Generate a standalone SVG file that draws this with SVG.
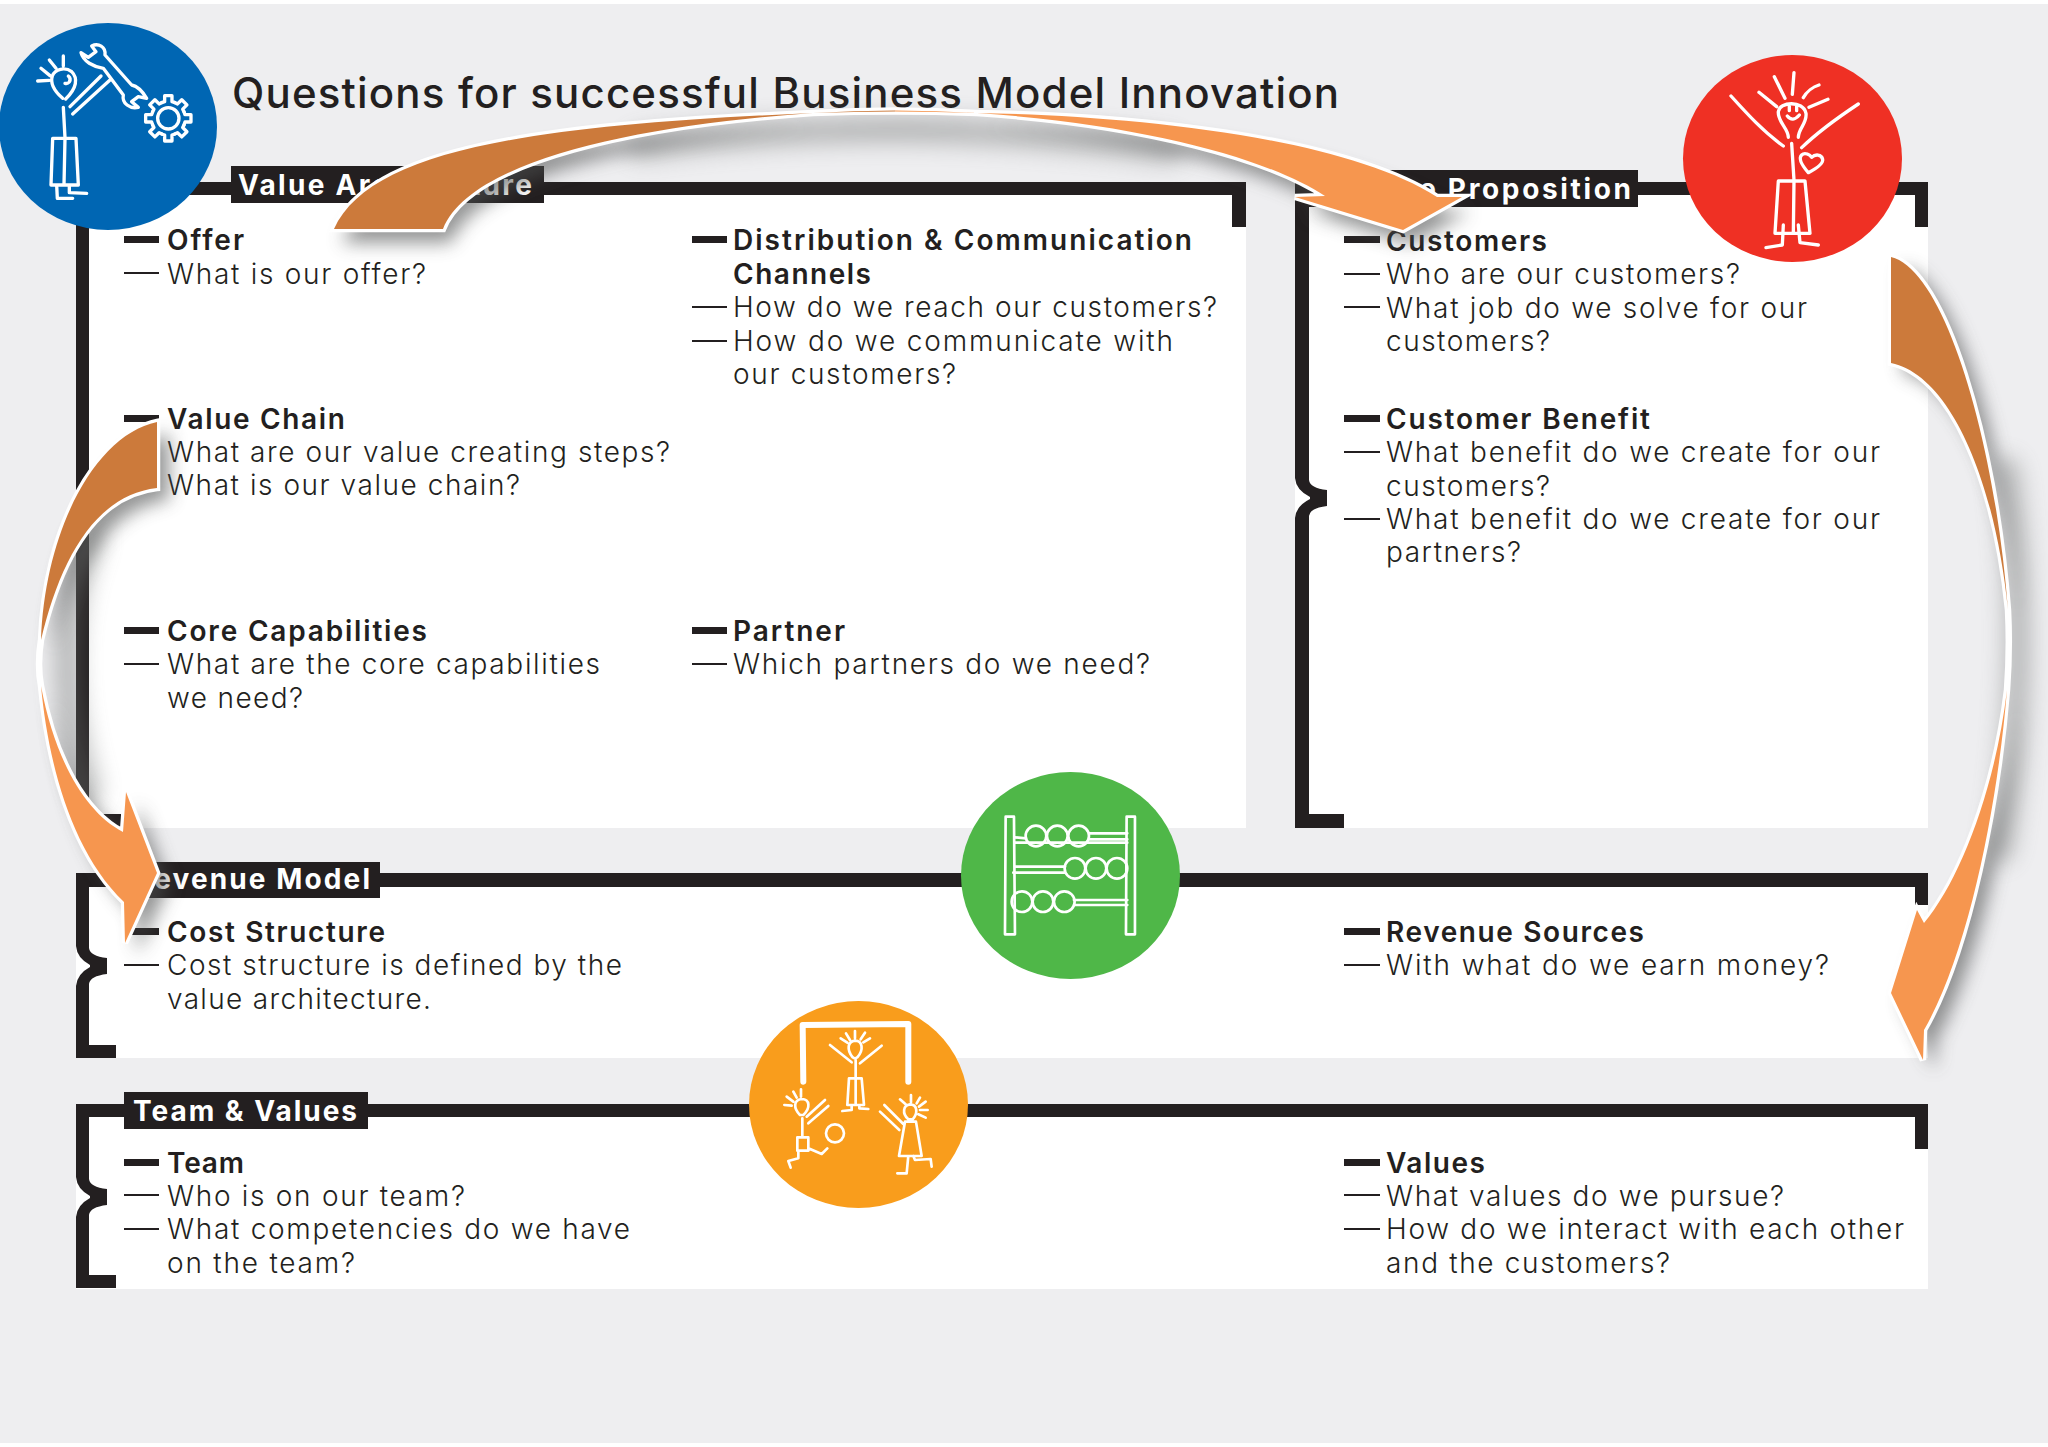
<svg xmlns="http://www.w3.org/2000/svg" xmlns:xlink="http://www.w3.org/1999/xlink" width="2048" height="1447" viewBox="0 0 2048 1447">
<style>
.bg{fill:#eeeef0}
.panel{fill:#fff}
.bar{fill:#231f20}
.thick{fill:#231f20}
.thin{fill:#231f20}
.h{font-family:"Inter","Liberation Sans",sans-serif;font-size:28px;font-weight:600;fill:#231f20}
.q{font-family:"Inter","Liberation Sans",sans-serif;font-size:28px;font-weight:300;fill:#231f20}
.tag{font-family:"Inter","Liberation Sans",sans-serif;font-size:28px;font-weight:700;fill:#fff}
.title{font-family:"Inter","Liberation Sans",sans-serif;font-size:42px;font-weight:500;fill:#231f20}
.ic{fill:none;stroke:#fff;stroke-width:10;stroke-linecap:round;stroke-linejoin:round}
.ic8{fill:none;stroke:#fff;stroke-width:8;stroke-linecap:round;stroke-linejoin:round}
.halo{stroke:#fff;stroke-width:6.500;stroke-linejoin:miter;fill:#fff}
.sh{fill:#4d4f4f;opacity:.6;filter:url(#blur)}
.shl{fill:none;stroke:#6d706e;stroke-width:26;opacity:.42;filter:url(#blur2);stroke-linecap:round}
</style>
<defs>
<filter id="blur" filterUnits="userSpaceOnUse" x="0" y="0" width="2048" height="1447"><feGaussianBlur stdDeviation="9"/></filter>
<filter id="blur2" filterUnits="userSpaceOnUse" x="0" y="0" width="2048" height="1447"><feGaussianBlur stdDeviation="11"/></filter>
<linearGradient id="g1" gradientUnits="userSpaceOnUse" x1="813" y1="0" x2="977" y2="0"><stop offset="0.5" stop-color="#cc7a3b"/><stop offset="0.5" stop-color="#f6964f"/></linearGradient>
<linearGradient id="g2" gradientUnits="userSpaceOnUse" x1="0" y1="640" x2="0" y2="686"><stop offset="0.5" stop-color="#cc7a3b"/><stop offset="0.5" stop-color="#f6964f"/></linearGradient>
<linearGradient id="g3" gradientUnits="userSpaceOnUse" x1="0" y1="610" x2="0" y2="690"><stop offset="0.5" stop-color="#cc7a3b"/><stop offset="0.5" stop-color="#f6964f"/></linearGradient>
<path id="a1" d="M334,229 C370,150 530,125 813,113 Q895,108 977,113 C1120,115 1340,135 1437,197 L1462,197 L1403,230 L1295,197 L1325,196 C1270,160 1150,125 977,113 Q895,110 813,113 C640,125 470,160 443,229 Z"/>
<path id="a2" d="M157,422 C95,435 45,530 41,640 Q37,665 41,686 C48,760 70,850 124,902 L125,943 L157,873 L126,792 L123,832 C85,812 55,760 41,686 Q37,665 41,640 C60,560 95,495 157,488 Z"/>
<path id="a3" d="M1891,257 C1945,270 1995,440 2008,610 Q2010,650 2007,690 C1998,800 1970,950 1924,1030 L1923,1060 L1891,993 L1917,910 L1924,923 C1960,880 1995,790 2007,690 Q2010,650 2008,610 C1995,480 1950,375 1891,363 Z"/>
<path id="tooth" d="M47,-20 L50,-11 L68,-11 L68,11 L50,11 L47,20"/>
</defs>
<rect class="bg" x="0" y="4" width="2048" height="1439"/>

<g id="title"><text class="title" x="232" y="108" textLength="1107">Questions for successful Business Model Innovation</text></g>

<g id="value-architecture">
<rect class="panel" x="76" y="182" width="1170" height="646"/>
<path class="bar" d="M76,182H1246V227H1232V195H89V814H121V828H76Z"/>
<rect class="bar" x="231" y="166" width="313" height="37"/>
<text class="tag" x="238" y="195" textLength="294">Value Architecture</text>
<rect class="thick" x="124" y="236" width="35" height="7"/><rect class="thin" x="124" y="272" width="35" height="2"/>
<text class="h" x="167" y="250" textLength="77">Offer</text>
<text class="q" x="167" y="284" textLength="259">What is our offer?</text>
<rect class="thick" x="124" y="415" width="35" height="7"/><rect class="thin" x="124" y="451" width="35" height="2"/><rect class="thin" x="124" y="484" width="35" height="2"/>
<text class="h" x="167" y="429" textLength="178">Value Chain</text>
<text class="q" x="167" y="462" textLength="503">What are our value creating steps?</text>
<text class="q" x="167" y="495" textLength="353">What is our value chain?</text>
<rect class="thick" x="124" y="627" width="35" height="7"/><rect class="thin" x="124" y="663" width="35" height="2"/>
<text class="h" x="167" y="641" textLength="260">Core Capabilities</text>
<text class="q" x="167" y="674" textLength="433">What are the core capabilities</text>
<text class="q" x="167" y="708" textLength="136">we need?</text>
<rect class="thick" x="692" y="236" width="35" height="7"/><rect class="thin" x="692" y="306" width="35" height="2"/><rect class="thin" x="692" y="340" width="35" height="2"/>
<text class="h" x="733" y="250" textLength="459">Distribution &amp; Communication</text>
<text class="h" x="733" y="284" textLength="138">Channels</text>
<text class="q" x="733" y="317" textLength="484">How do we reach our customers?</text>
<text class="q" x="733" y="351" textLength="440">How do we communicate with</text>
<text class="q" x="733" y="384" textLength="223">our customers?</text>
<rect class="thick" x="692" y="627" width="35" height="7"/><rect class="thin" x="692" y="663" width="35" height="2"/>
<text class="h" x="733" y="641" textLength="112">Partner</text>
<text class="q" x="733" y="674" textLength="417">Which partners do we need?</text>
</g>
<g id="value-architecture-icon">
<ellipse cx="108" cy="126.500" rx="109" ry="103.500" fill="#0066b3"/>
<g transform="scale(0.3333)">
<path class="ic" d="M113,243L148,241M123,205L150,227M148,180L168,205M190,168L190,198M188,295C165,275 150,250 157,228C165,207 195,200 215,215C235,235 230,265 197,297M205,228Q214,236 208,246Q203,252 195,250"/>
<path class="ic" d="M210,320L303,228M218,342L330,240M190,322L195,412M158,415L228,415L235,555L153,555ZM195,415L192,555M170,555L172,595L218,595M208,555L208,578L260,580"/>
<path class="ic" d="M275,138C295,128 318,140 315,165L395,255C410,258 425,270 440,295L415,290L395,305L415,322C390,328 365,310 370,285L310,205C280,200 250,185 243,158L265,172L288,155Z"/>
<g transform="translate(505,355)"><circle class="ic" r="32"/>
<use xlink:href="#tooth" class="ic"/><use xlink:href="#tooth" class="ic" transform="rotate(45)"/><use xlink:href="#tooth" class="ic" transform="rotate(90)"/><use xlink:href="#tooth" class="ic" transform="rotate(135)"/><use xlink:href="#tooth" class="ic" transform="rotate(180)"/><use xlink:href="#tooth" class="ic" transform="rotate(225)"/><use xlink:href="#tooth" class="ic" transform="rotate(270)"/><use xlink:href="#tooth" class="ic" transform="rotate(315)"/>
</g></g>
</g>

<g id="value-proposition">
<rect class="panel" x="1295" y="182" width="633" height="646"/>
<path class="bar" d="M1295,182H1928V227H1915V195H1309V480Q1310,488 1327,490V506Q1310,508 1309,516V814H1344V828H1295V518Q1296,506 1310,499V497Q1296,490 1295,478Z"/>
<rect class="bar" x="1295" y="170" width="343" height="37"/>
<text class="tag" x="1348" y="199" textLength="283">Value Proposition</text>
<rect class="thick" x="1344" y="236" width="36" height="7"/><rect class="thin" x="1344" y="273" width="36" height="2"/><rect class="thin" x="1344" y="306" width="36" height="2"/>
<text class="h" x="1386" y="251" textLength="161">Customers</text>
<text class="q" x="1386" y="284" textLength="354">Who are our customers?</text>
<text class="q" x="1386" y="318" textLength="421">What job do we solve for our</text>
<text class="q" x="1386" y="351" textLength="164">customers?</text>
<rect class="thick" x="1344" y="415" width="36" height="7"/><rect class="thin" x="1344" y="451" width="36" height="2"/><rect class="thin" x="1344" y="518" width="36" height="2"/>
<text class="h" x="1386" y="429" textLength="264">Customer Benefit</text>
<text class="q" x="1386" y="462" textLength="494">What benefit do we create for our</text>
<text class="q" x="1386" y="496" textLength="164">customers?</text>
<text class="q" x="1386" y="529" textLength="494">What benefit do we create for our</text>
<text class="q" x="1386" y="562" textLength="135">partners?</text>
</g>
<g id="value-proposition-icon">
<ellipse cx="1792.500" cy="158.500" rx="109.500" ry="103.500" fill="#ef3024"/>
<g transform="translate(1670,50) scale(0.3333)">
<path class="ic" d="M313,80L345,145M372,68L367,133M400,143C410,125 430,110 447,105M417,172L474,148M267,127L320,170M355,262C355,235 322,215 325,185C328,155 400,150 408,190C412,220 385,235 385,262M358,168L358,182M380,168L380,182M352,198Q368,218 388,195"/>
<path class="ic" d="M183,138C230,190 280,245 340,288M565,162C500,205 445,245 395,293M365,280L372,390M325,393L405,393L420,550L315,550ZM372,393L370,550M340,525L337,585L288,593M385,525L390,578L445,585"/>
<path class="ic" d="M415,368C395,345 385,325 395,315C405,305 420,315 425,322C435,312 455,312 458,328C460,340 440,355 415,368Z"/>
</g>
</g>

<g id="revenue-model">
<rect class="panel" x="76" y="873" width="1852" height="185"/>
<path class="bar" d="M76,873H1928V905H1915V887H89V948Q90,956 107,958V974Q90,976 89,984V1045H116V1058H76V986Q77,974 90,967V965Q77,958 76,946Z"/>
<rect class="bar" x="124" y="862" width="256" height="36"/>
<text class="tag" x="134" y="889" textLength="236">Revenue Model</text>
<rect class="thick" x="124" y="928" width="35" height="7"/><rect class="thin" x="124" y="964" width="35" height="2"/>
<text class="h" x="167" y="942" textLength="218">Cost Structure</text>
<text class="q" x="167" y="975" textLength="455">Cost structure is defined by the</text>
<text class="q" x="167" y="1009" textLength="264">value architecture.</text>
<rect class="thick" x="1344" y="928" width="36" height="7"/><rect class="thin" x="1344" y="964" width="36" height="2"/>
<text class="h" x="1386" y="942" textLength="258">Revenue Sources</text>
<text class="q" x="1386" y="975" textLength="443">With what do we earn money?</text>
</g>
<g id="revenue-model-icon">
<ellipse cx="1070.500" cy="875.500" rx="109.500" ry="103.500" fill="#4fb748"/>
<g transform="translate(720,750) scale(0.3333)">
<path class="ic8" d="M857,200L882,200L885,553L855,553ZM1220,200L1245,200L1245,553L1218,553Z"/>
<g class="ic8"><circle cx="948" cy="258" r="31"/><circle cx="1012" cy="258" r="31"/><circle cx="1076" cy="258" r="31"/><circle cx="1065" cy="355" r="31"/><circle cx="1128" cy="355" r="31"/><circle cx="1191" cy="355" r="31"/><circle cx="906" cy="455" r="31"/><circle cx="969" cy="455" r="31"/><circle cx="1033" cy="455" r="31"/></g>
<path class="ic8" d="M1107,250L1222,250M1107,268L1222,268M885,262L918,265M885,278L925,278L1222,278M885,350L1035,350M880,368L1035,368L885,368M1062,450L1222,450M1062,465L1222,465"/>
</g>
</g>

<g id="team-values">
<rect class="panel" x="76" y="1104" width="1852" height="185"/>
<path class="bar" d="M76,1104H1928V1149H1915V1117H89V1179Q90,1187 107,1189V1205Q90,1207 89,1215V1275H116V1288H76V1217Q77,1205 90,1198V1196Q77,1189 76,1177Z"/>
<rect class="bar" x="124" y="1092" width="244" height="37"/>
<text class="tag" x="133" y="1121" textLength="224">Team &amp; Values</text>
<rect class="thick" x="124" y="1159" width="35" height="7"/><rect class="thin" x="124" y="1194" width="35" height="2"/><rect class="thin" x="124" y="1228" width="35" height="2"/>
<text class="h" x="167" y="1173" textLength="77">Team</text>
<text class="q" x="167" y="1206" textLength="298">Who is on our team?</text>
<text class="q" x="167" y="1239" textLength="463">What competencies do we have</text>
<text class="q" x="167" y="1273" textLength="188">on the team?</text>
<rect class="thick" x="1344" y="1159" width="36" height="7"/><rect class="thin" x="1344" y="1194" width="36" height="2"/><rect class="thin" x="1344" y="1228" width="36" height="2"/>
<text class="h" x="1386" y="1173" textLength="99">Values</text>
<text class="q" x="1386" y="1206" textLength="398">What values do we pursue?</text>
<text class="q" x="1386" y="1239" textLength="518">How do we interact with each other</text>
<text class="q" x="1386" y="1273" textLength="284">and the customers?</text>
</g>
<g id="team-values-icon">
<ellipse cx="858.500" cy="1104.500" rx="109.500" ry="103.500" fill="#f99d1c"/>
<g transform="translate(740,1000) scale(0.3333)">
<path class="ic" style="stroke-width:18" d="M190,245L188,75L505,72L505,245"/>
<path class="ic8" d="M302,115L322,128M318,100L330,120M345,93L345,115M375,98L362,118M390,115L370,127M338,172C320,150 322,125 345,122C368,122 372,150 352,172Q345,178 338,172ZM270,135L335,187M425,137L360,190M347,180L347,235M327,235L365,235L372,315L322,315ZM347,235L347,315M335,315L335,330L307,333M358,315L358,325L385,327"/>
<path class="ic8" d="M133,315L155,317M140,290L160,305M160,275L170,293M183,268L183,290M180,345C160,325 160,300 185,297C210,297 212,325 190,345ZM200,350L255,300M205,370L265,318M187,355L187,410M172,412L205,412L205,452L172,452ZM175,452L175,475L145,483L152,503M205,445L245,462L262,445"/>
<circle class="ic8" cx="285" cy="400" r="27"/>
<path class="ic8" d="M480,298L497,313M513,285L513,307M540,293L530,310M557,305L537,320M563,330L540,330M557,353L535,343M505,358C485,340 490,315 510,313C532,313 535,340 518,358ZM433,315L490,372M420,335L478,390M495,365L528,365L545,468L477,468ZM505,468L500,520L472,520M520,468L525,480L572,477L575,500"/>
</g>
</g>

<g id="connectors">
<g id="arrow-architecture-to-proposition">
<use xlink:href="#a1" class="sh" transform="translate(8,14)"/>
<path class="shl" d="M640,146Q895,112 1170,150"/>
<use xlink:href="#a1" class="halo"/>
<use xlink:href="#a1" fill="url(#g1)"/>
</g>
<g id="arrow-architecture-to-revenue">
<use xlink:href="#a2" class="sh" transform="translate(12,12)"/>
<path class="shl" d="M90,540Q46,650 88,790"/>
<use xlink:href="#a2" class="halo"/>
<use xlink:href="#a2" fill="url(#g2)"/>
</g>
<g id="arrow-proposition-to-revenue">
<use xlink:href="#a3" class="sh" transform="translate(12,10)"/>
<path class="shl" d="M2006,470Q2032,650 2000,850"/>
<use xlink:href="#a3" class="halo"/>
<use xlink:href="#a3" fill="url(#g3)"/>
</g>
</g>
</svg>
